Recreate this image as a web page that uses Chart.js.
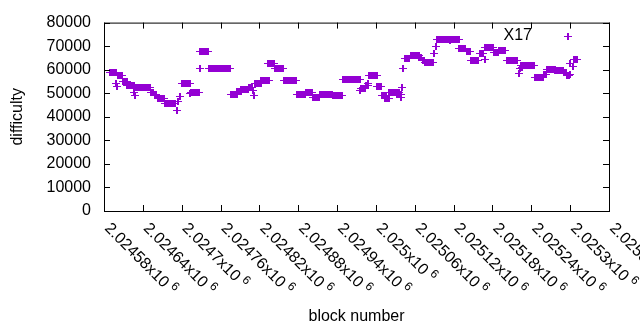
<!DOCTYPE html>
<html>
<head>
<meta charset="utf-8">
<script src="https://cdn.jsdelivr.net/npm/chart.js@4"></script>
<style>
  html, body { margin: 0; padding: 0; background: #fff; }
</style>
</head>
<body>
<canvas id="difficulty-chart" width="640" height="330"></canvas>
<script>
const seriesName = "X17";

const xTicks = [2024580, 2024640, 2024700, 2024760, 2024820, 2024880, 2024940,
  2025000, 2025060, 2025120, 2025180, 2025240, 2025300, 2025360];
const xTickMantissa = ["2.02458", "2.02464", "2.0247", "2.02476", "2.02482", "2.02488", "2.02494",
  "2.025", "2.02506", "2.02512", "2.02518", "2.02524", "2.0253", "2.02536"];
const yTicks = [0, 10000, 20000, 30000, 40000, 50000, 60000, 70000, 80000];

// block numbers, one line per group of points
const blocks = [
  2024590, 2024593, 2024596, 2024598,
  2024599, 2024600,
  2024602, 2024605, 2024608,
  2024610, 2024613, 2024615,
  2024616, 2024619, 2024622, 2024625, 2024627,
  2024627, 2024628,
  2024630, 2024633, 2024636, 2024639, 2024642, 2024645, 2024648, 2024651,
  2024653, 2024656,
  2024658, 2024661,
  2024663, 2024666, 2024669, 2024672,
  2024674, 2024677, 2024680, 2024683, 2024686, 2024689,
  2024692,
  2024694, 2024697,
  2024701, 2024704, 2024707, 2024710, 2024713,
  2024713,
  2024715, 2024718, 2024721, 2024724, 2024727,
  2024728,
  2024729, 2024732, 2024735, 2024738, 2024741,
  2024742, 2024745, 2024748, 2024751, 2024754, 2024757, 2024760, 2024763, 2024766, 2024769, 2024772, 2024775,
  2024776, 2024779, 2024782, 2024785,
  2024786, 2024789, 2024791,
  2024792, 2024795, 2024798, 2024801, 2024803,
  2024804, 2024806, 2024808,
  2024810, 2024811,
  2024813, 2024816, 2024819, 2024822,
  2024823, 2024826, 2024829, 2024832, 2024835,
  2024834, 2024837, 2024840, 2024843,
  2024844, 2024847, 2024850, 2024853, 2024856,
  2024858, 2024861, 2024864, 2024867, 2024870, 2024873, 2024876,
  2024878, 2024881, 2024884, 2024887, 2024890,
  2024892, 2024895, 2024898, 2024901,
  2024903, 2024906, 2024909, 2024912,
  2024914, 2024917, 2024920, 2024923, 2024926, 2024929, 2024932,
  2024934, 2024937, 2024940, 2024943, 2024946, 2024948,
  2024949, 2024952, 2024955, 2024958, 2024961, 2024964, 2024967, 2024970, 2024973, 2024975,
  2024975,
  2024977, 2024980, 2024983,
  2024984, 2024987,
  2024988,
  2024990, 2024993, 2024996, 2024999, 2025001,
  2025002, 2025005, 2025008,
  2025010, 2025013, 2025016,
  2025014, 2025017, 2025020,
  2025020, 2025023, 2025026, 2025029, 2025032, 2025035,
  2025033, 2025036, 2025039,
  2025038, 2025041, 2025042,
  2025045, 2025048, 2025051,
  2025054, 2025057, 2025060, 2025063, 2025066,
  2025067, 2025070,
  2025072, 2025075,
  2025076, 2025079, 2025082, 2025085, 2025088,
  2025090, 2025093,
  2025095, 2025098, 2025101, 2025104, 2025107, 2025110, 2025113, 2025116, 2025119, 2025122, 2025125, 2025128,
  2025115,
  2025129, 2025132, 2025135, 2025138,
  2025140, 2025143, 2025146,
  2025147, 2025150, 2025153, 2025156, 2025158,
  2025160, 2025163, 2025166,
  2025168,
  2025169, 2025172, 2025175, 2025178, 2025181,
  2025183, 2025186, 2025189,
  2025190, 2025193, 2025196, 2025199,
  2025203, 2025206, 2025209, 2025212, 2025215, 2025218,
  2025221,
  2025223, 2025225,
  2025224, 2025227, 2025230, 2025233, 2025236, 2025239, 2025242, 2025244,
  2025246, 2025249, 2025252, 2025255, 2025258,
  2025260, 2025263,
  2025264, 2025267, 2025270, 2025273, 2025276,
  2025277, 2025280, 2025283, 2025286, 2025289,
  2025290, 2025293,
  2025295, 2025298,
  2025300, 2025300, 2025304,
  2025306, 2025309, 2025311,
];

const difficulty = [
  58700, 58700, 58700, 58700,
  54200, 53000,
  57600, 57600, 57600,
  54800, 54800, 54800,
  53300, 53300, 53300, 53300, 53300,
  50400, 49000,
  52300, 52300, 52300, 52300, 52300, 52300, 52300, 52300,
  50500, 50500,
  49300, 49300,
  47800, 47800, 47800, 47800,
  45700, 45700, 45700, 45700, 45700, 45700,
  42800,
  46300, 48700,
  54000, 54000, 54000, 54000, 54000,
  50000,
  50500, 50500, 50500, 50500, 50500,
  60700,
  67600, 67600, 67600, 67600, 67600,
  60700, 60700, 60700, 60700, 60700, 60700, 60700, 60700, 60700, 60700, 60700, 60700,
  49400, 49400, 49400, 49400,
  50600, 50600, 50600,
  51400, 51400, 51400, 51400, 51400,
  52600, 52600, 52600,
  51200, 49200,
  54200, 54200, 54200, 54200,
  55600, 55600, 55600, 55600, 55600,
  62800, 62800, 62800, 62800,
  60700, 60700, 60700, 60700, 60700,
  55400, 55400, 55400, 55400, 55400, 55400, 55400,
  49500, 49500, 49500, 49500, 49500,
  50300, 50300, 50300, 50300,
  48300, 48300, 48300, 48300,
  49500, 49500, 49500, 49500, 49500, 49500, 49500,
  49000, 49000, 49000, 49000, 49000, 49000,
  55700, 55700, 55700, 55700, 55700, 55700, 55700, 55700, 55700, 55700,
  51100,
  52100, 52100, 52100,
  53500, 53500,
  54000,
  57400, 57400, 57400, 57400, 57400,
  52800, 52800, 52800,
  49000, 49000, 49000,
  47600, 47600, 47600,
  50200, 50200, 50200, 50200, 50200, 50200,
  49600, 49600, 49600,
  48300, 52400, 60400,
  64900, 64900, 64900,
  66100, 66100, 66100, 66100, 66100,
  65200, 65200,
  64000, 64000,
  62900, 62900, 62900, 62900, 62900,
  67000, 70000,
  72800, 72800, 72800, 72800, 72800, 72800, 72800, 72800, 72800, 72800, 72800, 72800,
  72200,
  69000, 69000, 69000, 69000,
  67600, 67600, 67600,
  63700, 63700, 63700, 63700, 63700,
  66900, 66900, 66900,
  64400,
  69400, 69400, 69400, 69400, 69400,
  67200, 67200, 67200,
  68200, 68200, 68200, 68200,
  64000, 64000, 64000, 64000, 64000, 64000,
  58500,
  60600, 61000,
  61800, 61800, 61800, 61800, 61800, 61800, 61800, 61800,
  56600, 56600, 56600, 56600, 56600,
  58000, 58000,
  60200, 60200, 60200, 60200, 60200,
  59800, 59800, 59800, 59800, 59800,
  58600, 58600,
  57700, 57700,
  57800, 62600, 61500,
  64500, 64500, 64500,
];

const purple = "rgb(148, 0, 211)";
const fontFamily = "'Liberation Sans', Arial, sans-serif";
Chart.defaults.font.family = fontFamily;
Chart.defaults.font.size = 16;
Chart.defaults.color = "#000";

// gnuplot-like "+" mark
const crossMark = document.createElement("canvas");
crossMark.width = 8;
crossMark.height = 7;
const cctx = crossMark.getContext("2d");
cctx.fillStyle = purple;
cctx.fillRect(0, 3, 8, 1);
cctx.fillRect(3, 0, 2, 7);

const frame = {
  id: "frame",
  beforeDatasetsDraw(chart) {
    chart.ctx.save();
    chart.ctx.imageSmoothingEnabled = false;
  },
  afterDatasetsDraw(chart) {
    chart.ctx.restore();
  },
  afterDraw(chart) {
    const { ctx, chartArea: a, scales: { x, y } } = chart;
    const tick = 6;
    ctx.save();
    ctx.strokeStyle = "#000";
    ctx.lineWidth = 1;
    ctx.beginPath();
    x.ticks.forEach((t) => {
      const px = Math.round(x.getPixelForValue(t.value)) + 0.5;
      ctx.moveTo(px, a.bottom);
      ctx.lineTo(px, a.bottom - tick);
      ctx.moveTo(px, a.top);
      ctx.lineTo(px, a.top + tick);
    });
    y.ticks.forEach((t) => {
      const py = Math.round(y.getPixelForValue(t.value)) + 0.5;
      ctx.moveTo(a.left, py);
      ctx.lineTo(a.left + tick, py);
      ctx.moveTo(a.right, py);
      ctx.lineTo(a.right - tick, py);
    });
    ctx.stroke();
    ctx.strokeRect(a.left + 0.5, a.top + 0.5, a.right - a.left, a.bottom - a.top);

    // rotated x tick labels, left-aligned at the tick
    ctx.fillStyle = "#000";
    x.ticks.forEach((t, i) => {
      const px = x.getPixelForValue(t.value);
      ctx.save();
      ctx.translate(px + 3, a.bottom + 15);
      ctx.rotate(Math.PI / 4);
      ctx.textAlign = "left";
      ctx.textBaseline = "middle";
      ctx.font = "16px " + fontFamily;
      const main = xTickMantissa[i] + "x10";
      ctx.fillText(main, 0, 0);
      const w = ctx.measureText(main).width;
      ctx.font = "12px " + fontFamily;
      ctx.fillText("6", w + 4, -5);
      ctx.restore();
    });

    // key
    ctx.font = "16px " + fontFamily;
    ctx.textAlign = "right";
    ctx.textBaseline = "middle";
    const keyY = a.top + 13;
    ctx.fillText(chart.data.datasets[0].label, a.right - 77, keyY);
    ctx.imageSmoothingEnabled = false;
    ctx.drawImage(crossMark, a.right - 41 - 4, keyY - 3);
    ctx.restore();
  },
};

new Chart(document.getElementById("difficulty-chart"), {
  type: "scatter",
  data: {
    datasets: [
      {
        label: seriesName,
        data: blocks.map((b, i) => ({ x: b, y: difficulty[i] })),
        pointStyle: crossMark,
        pointRadius: 4,
        borderColor: purple,
        backgroundColor: purple,
      },
    ],
  },
  options: {
    responsive: false,
    animation: false,
    devicePixelRatio: 1,
    layout: { padding: { top: 19, right: 31, left: 0, bottom: 0 } },
    plugins: { legend: { display: false }, tooltip: { enabled: false } },
    scales: {
      x: {
        type: "linear",
        min: xTicks[0],
        max: xTicks[xTicks.length - 1],
        afterBuildTicks: (s) => { s.ticks = xTicks.map((v) => ({ value: v })); },
        afterFit: (s) => { s.height = 119; },
        ticks: { display: false },
        grid: { display: false, drawTicks: false },
        border: { display: false },
        title: { display: true, text: "block number", padding: { top: 5 } },
      },
      y: {
        min: 0,
        max: 80000,
        afterBuildTicks: (s) => { s.ticks = yTicks.map((v) => ({ value: v })); },
        afterFit: (s) => { s.width = 104; },
        ticks: { padding: 13, callback: (v) => String(v) },
        grid: { display: false, drawTicks: false },
        border: { display: false },
        title: { display: true, text: "difficulty", padding: { top: 8 } },
      },
    },
  },
  plugins: [frame],
});
</script>
</body>
</html>
